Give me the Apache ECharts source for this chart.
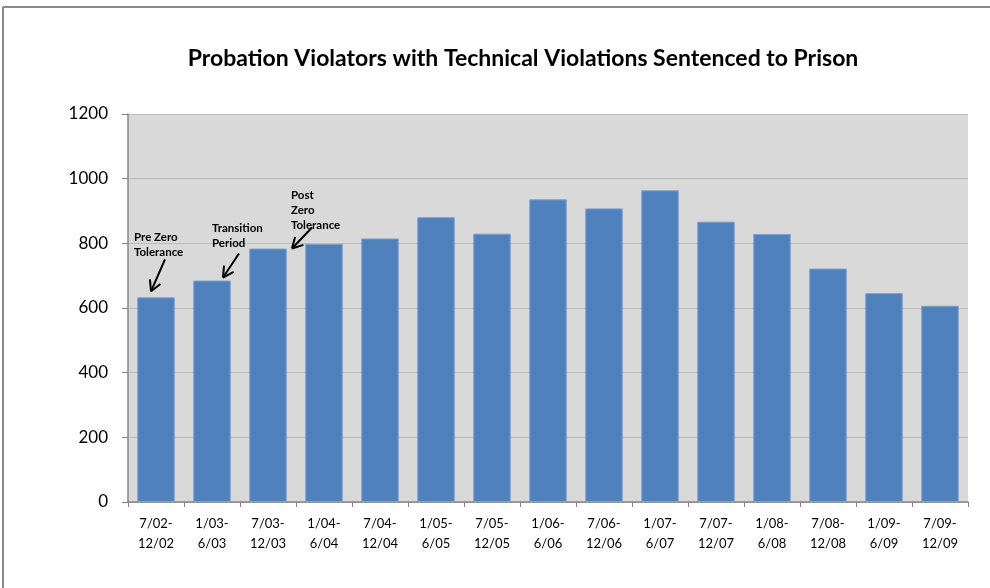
<!DOCTYPE html>
<html>
<head>
<meta charset="utf-8">
<script src="https://cdn.jsdelivr.net/npm/echarts@6/dist/echarts.min.js"></script>
<style>
  html, body { margin: 0; padding: 0; background: #fff; }
  #chart { width: 990px; height: 588px; }
</style>
</head>
<body>
<div id="chart"></div>
<script>
// 半年区间
const periods = ["7/02-\n12/02", "1/03-\n6/03", "7/03-\n12/03", "1/04-\n6/04", "7/04-\n12/04",
  "1/05-\n6/05", "7/05-\n12/05", "1/06-\n6/06", "7/06-\n12/06", "1/07-\n6/07",
  "7/07-\n12/07", "1/08-\n6/08", "7/08-\n12/08", "1/09-\n6/09", "7/09-\n12/09"];
// 判处监禁人数
const violators = [633, 685, 784, 798, 815, 881, 830, 936, 908, 964, 867, 829, 722, 646, 607];
const yTicks = [0, 200, 400, 600, 800, 1000, 1200];

// 注释文字及对应的柱子
const noteText = ["Pre Zero\nTolerance", "Transition\nPeriod", "Post\nZero\nTolerance"];
const noteBar = [0, 1, 2];

const FONT = "Lato, 'Open Sans', sans-serif";
const chart = echarts.init(document.getElementById("chart"));

chart.setOption({
  animation: false,
  backgroundColor: "#fff",
  title: {
    text: "Probation Violators with Technical Violations Sentenced to Prison",
    left: 518,
    top: 42,
    textAlign: "center",
    textStyle: { fontFamily: FONT, fontWeight: "bold", fontSize: 23, color: "#000" },
  },
  grid: { left: 128, right: 22, top: 114, bottom: 86, show: true, backgroundColor: "#d9d9d9", borderWidth: 0 },
  xAxis: {
    type: "category",
    data: periods,
    axisLine: { lineStyle: { color: "#868686", width: 1.5 } },
    axisTick: { show: true, length: 5, lineStyle: { color: "#868686" } },
    axisLabel: { fontFamily: FONT, fontSize: 13, color: "#000", lineHeight: 20, margin: 12, interval: 0 },
  },
  yAxis: {
    type: "value",
    min: yTicks[0],
    max: yTicks[yTicks.length - 1],
    interval: 200,
    axisLine: { show: true, lineStyle: { color: "#868686", width: 1.5 } },
    axisTick: { show: true, inside: false, length: 6, lineStyle: { color: "#868686" } },
    axisLabel: { fontFamily: FONT, fontSize: 17, color: "#000", margin: 20, formatter: v => String(v) },
    splitLine: { lineStyle: { color: "#bcbcbc", width: 1 } },
  },
  series: [{
    type: "bar",
    data: violators,
    barCategoryGap: "33%",
    itemStyle: { color: "#4f81bd", borderColor: "#7d9fcf", borderWidth: 1 },
  }],
});

// 箭头与注释 (相对柱顶中心的偏移)
const drawNotes = () => {
  const els = [
    { type: "line", shape: { x1: 3, y1: 7, x2: 990, y2: 7 }, style: { stroke: "#888", lineWidth: 2 } },
    { type: "line", shape: { x1: 3, y1: 7, x2: 3, y2: 588 }, style: { stroke: "#888", lineWidth: 2 } },
  ];
  // [文字x, 文字y, 箭尾x, 箭尾y, 箭头x, 箭头y]
  const offs = [
    [-22, -68, 9, -38, -5, -6],
    [0, -60, 27, -27, 11, -3],
    [23, -61, 44, -21, 24, 0],
  ];
  noteBar.forEach((b, i) => {
    const p = chart.convertToPixel({ seriesIndex: 0 }, [b, violators[b]]);
    const o = offs[i];
    const tailX = p[0] + o[2], tailY = p[1] + o[3];
    const tipX = p[0] + o[4], tipY = p[1] + o[5];
    els.push({
      type: "text",
      x: p[0] + o[0], y: p[1] + o[1],
      style: { text: noteText[i], font: "bold 11.5px " + FONT, fill: "#000", lineHeight: 15 },
    });
    els.push({ type: "line", shape: { x1: tailX, y1: tailY, x2: tipX, y2: tipY }, style: { stroke: "#000", lineWidth: 2 } });
    const ang = Math.atan2(tipY - tailY, tipX - tailX);
    const hl = 12;
    [0.5, -0.5].forEach(d => {
      els.push({
        type: "line",
        shape: { x1: tipX, y1: tipY, x2: tipX - hl * Math.cos(ang + d), y2: tipY - hl * Math.sin(ang + d) },
        style: { stroke: "#000", lineWidth: 2 },
      });
    });
  });
  chart.setOption({ graphic: els });
};
drawNotes();
</script>
</body>
</html>
